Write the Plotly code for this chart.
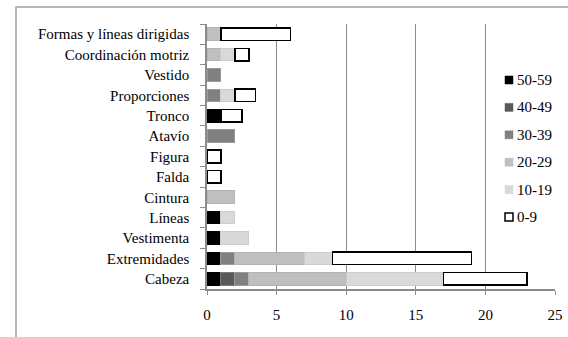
import plotly.graph_objects as go

categories = ["Cabeza", "Extremidades", "Vestimenta", "Líneas", "Cintura", "Falda",
              "Figura", "Atavío", "Tronco", "Proporciones", "Vestido",
              "Coordinación motriz", "Formas y líneas dirigidas"]

series_names = ["50-59", "40-49", "30-39", "20-29", "10-19", "0-9"]

v_50_59 = [1, 1, 1, 1, 0, 0, 0, 0, 1, 0, 0, 0, 0]
v_40_49 = [1, 0, 0, 0, 0, 0, 0, 0, 0, 0, 0, 0, 0]
v_30_39 = [1, 1, 0, 0, 0, 0, 0, 2, 0, 1, 1, 0, 0]
v_20_29 = [7, 5, 0, 0, 2, 0, 0, 0, 0, 0, 0, 1, 1]
v_10_19 = [7, 2, 2, 1, 0, 0, 0, 0, 0, 1, 0, 1, 0]
v_0_9 = [6, 10, 0, 0, 0, 1, 1, 0, 1.5, 1.5, 0, 1, 5]

series_values = [v_50_59, v_40_49, v_30_39, v_20_29, v_10_19, v_0_9]

x_ticks = [0, 5, 10, 15, 20, 25]

fills = ["#000000", "#595959", "#808080", "#bfbfbf", "#d9d9d9", "#ffffff"]
lines = ["#000000", "#7a7a7a", "#9a9a9a", "#b3b3b3", "#cccccc", "#000000"]
line_w = [1, 1, 1, 1, 1, 1.5]

W, H = 568, 337
ML, MR, MT, MB = 207, 13, 24, 48
PW, PH = W - ML - MR, H - MT - MB

def px(xp):
    return (xp - ML) / PW

def py(yp):
    return (H - MB - yp) / PH

FONT = "Liberation Serif, Times New Roman, serif"

fig = go.Figure()
for name, vals, fc, lc, lw in zip(series_names, series_values, fills, lines, line_w):
    fig.add_trace(go.Bar(
        y=categories, x=[v if v else None for v in vals], name=name, orientation="h",
        marker=dict(color=fc, line=dict(color=lc, width=lw)),
        showlegend=False,
    ))

shapes = []
annotations = []
# chart area frame (extends beyond the visible picture)
shapes.append(dict(type="rect", xref="paper", yref="paper",
                   x0=px(16), x1=px(600), y0=py(360), y1=py(7),
                   line=dict(color="#a0a0a0", width=1.5), layer="below"))

# manual legend
leg_y0 = 80
leg_dy = 27.4
for i, (name, fc) in enumerate(zip(series_names, fills)):
    cy = leg_y0 + i * leg_dy
    shapes.append(dict(type="rect", xref="paper", yref="paper",
                       x0=px(505), x1=px(513), y0=py(cy + 4), y1=py(cy - 4),
                       fillcolor=fc,
                       line=dict(color="#000000" if name == "0-9" else fc,
                                 width=1.5 if name == "0-9" else 0.5)))
    annotations.append(dict(xref="paper", yref="paper", x=px(515), y=py(cy),
                            xanchor="left", yanchor="middle", text=name,
                            showarrow=False,
                            font=dict(family=FONT, size=15, color="#000000")))

fig.update_layout(
    width=W, height=H,
    margin=dict(l=ML, r=MR, t=MT, b=MB, pad=0, autoexpand=False),
    barmode="stack", bargap=0.38,
    showlegend=False,
    paper_bgcolor="#ffffff", plot_bgcolor="#ffffff",
    font=dict(family=FONT, size=15, color="#000000"),
    shapes=shapes, annotations=annotations,
    xaxis=dict(range=[0, 25], tickvals=x_ticks, ticktext=[str(t) for t in x_ticks],
               showgrid=True, gridcolor="#8c8c8c", gridwidth=1,
               showline=True, linecolor="#8c8c8c", linewidth=1.5,
               ticks="outside", ticklen=4, tickcolor="#8c8c8c",
               zeroline=False, ticklabelstandoff=7, automargin=False,
               tickfont=dict(family=FONT, size=15, color="#000000")),
    yaxis=dict(type="category", categoryorder="array", categoryarray=categories,
               showgrid=False, showline=True, linecolor="#8c8c8c", linewidth=1.5,
               ticks="outside", ticklen=5, tickcolor="#8c8c8c", tickson="boundaries",
               ticklabelstandoff=13, automargin=False,
               tickfont=dict(family=FONT, size=15, color="#000000")),
)

fig.write_html("out.html", config={"displayModeBar": False},
               post_script="document.body.style.margin='0';document.body.style.padding='0';")
